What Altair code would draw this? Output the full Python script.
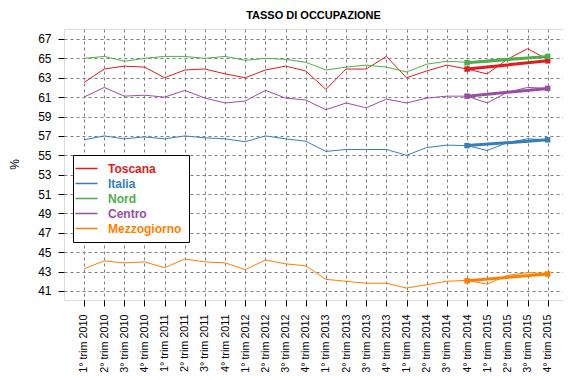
import altair as alt
import pandas as pd

quarters = [
    "1° trim 2010", "2° trim 2010", "3° trim 2010", "4° trim 2010",
    "1° trim 2011", "2° trim 2011", "3° trim 2011", "4° trim 2011",
    "1° trim 2012", "2° trim 2012", "3° trim 2012", "4° trim 2012",
    "1° trim 2013", "2° trim 2013", "3° trim 2013", "4° trim 2013",
    "1° trim 2014", "2° trim 2014", "3° trim 2014", "4° trim 2014",
    "1° trim 2015", "2° trim 2015", "3° trim 2015", "4° trim 2015",
]

series = ["Toscana", "Italia", "Nord", "Centro", "Mezzogiorno"]
colors = ["#E41A1C", "#377EB8", "#4DAF4A", "#984EA3", "#FF7F00"]

toscana = [62.5, 63.9, 64.2, 64.1, 63.0, 63.8, 63.9, 63.4, 63.0, 63.8, 64.2, 63.7,
           61.8, 63.9, 63.9, 65.2, 63.0, 63.7, 64.3, 63.9, 63.4, 64.9, 66.0, 64.9]
italia = [56.6, 57.0, 56.7, 56.9, 56.7, 57.0, 56.8, 56.7, 56.4, 57.0, 56.7, 56.45,
          55.4, 55.6, 55.6, 55.6, 55.0, 55.8, 56.05, 56.0, 55.5, 56.3, 56.7, 56.6]
nord = [65.0, 65.2, 64.7, 65.0, 65.2, 65.2, 65.0, 65.2, 64.8, 65.0, 64.9, 64.6,
        63.8, 64.1, 64.3, 64.1, 63.6, 64.4, 64.7, 64.6, 64.8, 65.0, 65.1, 65.2]
centro = [61.0, 62.0, 61.1, 61.2, 61.0, 61.7, 60.9, 60.4, 60.6, 61.7, 60.9, 60.7,
          59.7, 60.4, 59.9, 60.8, 60.4, 60.9, 61.1, 61.1, 60.4, 61.5, 62.0, 61.9]
mezzogiorno = [43.3, 44.1, 43.9, 44.0, 43.4, 44.3, 44.0, 43.9, 43.2, 44.2, 43.8, 43.6,
               42.2, 42.0, 41.8, 41.8, 41.3, 41.65, 42.0, 42.1, 41.7, 42.6, 42.9, 42.8]

trend_quarters = ["4° trim 2014", "4° trim 2015"]
trend_start = [63.9, 56.0, 64.55, 61.1, 42.05]
trend_end = [64.75, 56.6, 65.2, 61.9, 42.75]

y_ticks = [41, 43, 45, 47, 49, 51, 53, 55, 57, 59, 61, 63, 65, 67]

values = [toscana, italia, nord, centro, mezzogiorno]
rows = []
for s, vals in zip(series, values):
    for i, v in enumerate(vals):
        rows.append({"serie": s, "idx": i, "valore": v, "tipo": "obs"})
for s, a, b in zip(series, trend_start, trend_end):
    rows.append({"serie": s, "idx": quarters.index(trend_quarters[0]), "valore": a, "tipo": "trend"})
    rows.append({"serie": s, "idx": quarters.index(trend_quarters[1]), "valore": b, "tipo": "trend"})
df = pd.DataFrame(rows)

FONT = "Liberation Sans"
label_js = "[" + ",".join("'" + q + "'" for q in quarters) + "]"
color_expr = " : ".join(
    f"datum.value == '{s}' ? '{c}'" for s, c in zip(series, colors)
) + " : 'black'"

x_scale = alt.Scale(domain=[-0.992, 23.76], nice=False, zero=False)
y_scale = alt.Scale(domain=[40.07, 68.03], nice=False, zero=False)
color_scale = alt.Scale(domain=series, range=colors)

x_enc = alt.X(
    "idx:Q", scale=x_scale,
    axis=alt.Axis(
        values=list(range(len(quarters))),
        labelExpr=label_js + "[datum.value]",
        labelAngle=270, labelAlign="right", labelBaseline="middle",
        labelFont=FONT, labelFontSize=10.8, labelColor="black",
        labelPadding=8, labelOverlap=False, labelFlush=False, labelBound=False,
        tickSize=6, tickColor="black", domain=False,
        grid=True, gridDash=[3, 3], gridColor="#808080", gridOpacity=1,
        title=None,
    ),
)
y_enc = alt.Y(
    "valore:Q", scale=y_scale,
    axis=alt.Axis(
        values=y_ticks,
        labelFont=FONT, labelFontSize=12, labelColor="black", labelPadding=7,
        labelOverlap=False, labelFlush=False, labelBound=False,
        tickSize=6, tickColor="black", domain=False,
        grid=True, gridDash=[3, 3], gridColor="#808080", gridOpacity=1,
        title="%", titleFont=FONT, titleFontSize=12, titleFontWeight="normal",
        titleColor="black", titleX=-50, titleY=135, titleAngle=270,
        titleBaseline="middle", titleAlign="center",
    ),
)

base = alt.Chart(df).encode(x=x_enc, y=y_enc)

lines = base.transform_filter(alt.datum.tipo == "obs").mark_line(strokeWidth=1).encode(
    color=alt.Color(
        "serie:N", scale=color_scale,
        legend=alt.Legend(
            orient="none", legendX=9, legendY=126, title=None,
            symbolType="M-2,0L2,0", symbolSize=121, symbolStrokeWidth=1.5,
            labelFont=FONT, labelFontSize=12, labelFontWeight="bold",
            labelColor={"expr": color_expr},
            labelOffset=15, rowPadding=2, padding=7,
            strokeColor="black", fillColor="white",
        ),
    ),
    detail="serie:N",
)

trend = base.transform_filter(alt.datum.tipo == "trend").mark_line(strokeWidth=3).encode(
    color=alt.Color("serie:N", scale=color_scale, legend=None),
    detail="serie:N",
)
pts = base.transform_filter(alt.datum.tipo == "trend").mark_point(
    shape="square", filled=True, size=30, opacity=1
).encode(
    color=alt.Color("serie:N", scale=color_scale, legend=None),
)

chart = alt.layer(lines, trend, pts).properties(
    width=499, height=271,
    title=alt.TitleParams(
        "TASSO DI OCCUPAZIONE", font=FONT, fontSize=11, fontWeight="bold",
        color="black", anchor="middle", frame="group", offset=8,
    ),
    autosize=alt.AutoSizeParams(type="none"),
    padding={"left": 56, "top": 21, "right": 0, "bottom": 72},
).configure_view(stroke="black", strokeWidth=1).configure(background="white")

chart.save("out.html", embed_options={"renderer": "svg", "actions": False})
